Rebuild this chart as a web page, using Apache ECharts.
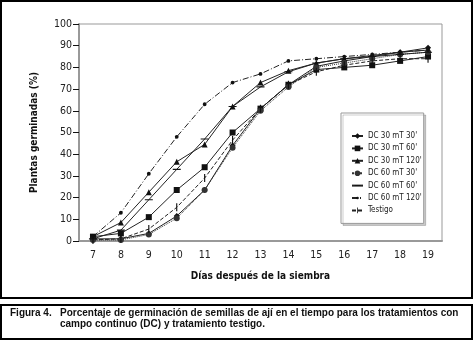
<!DOCTYPE html>
<html>
<head>
<meta charset="utf-8">
<script src="https://cdn.jsdelivr.net/npm/echarts@6/dist/echarts.min.js"></script>
<style>
  html, body { margin: 0; padding: 0; background: #fff; }
  #main { width: 475px; height: 342px; }
</style>
</head>
<body>
<div id="main"></div>
<script>
// días después de la siembra
var dias = ['7', '8', '9', '10', '11', '12', '13', '14', '15', '16', '17', '18', '19']
var yTicks = [0, 10, 20, 30, 40, 50, 60, 70, 80, 90, 100]

// porcentaje de plantas germinadas
var dc30_30 = [1, 1, 3.5, 11.5, 23.5, 44, 61, 72, 80.5, 83, 85, 87, 89]
var dc30_60 = [2, 3.5, 11, 23.5, 34, 50, 61, 72, 79, 80, 81, 83, 85]
var dc30_120 = [2, 8.5, 22.5, 36.5, 44.5, 62, 73, 78.5, 82, 84, 85.5, 87, 88]
var dc60_30 = [0.5, 0.5, 3, 10.5, 23.5, 43, 60, 71, 80, 82, 84, 86, 87]
var dc60_60 = [1, 5, 19, 33, 47, 62, 71, 78, 82, 84, 85, 86, 87]
var dc60_120 = [2, 13, 31, 48, 63, 73, 77, 83, 84, 85, 86, 87, 88]
var testigo = [0.5, 1, 5.5, 15.5, 29, 46.5, 61, 72, 78, 81, 83, 84, 84]

var font = "'DejaVu Sans Condensed', 'Liberation Sans', Arial, sans-serif"
var capFont = "'Liberation Sans', Arial, sans-serif"

// marcadores con caja cuadrada para que la leyenda no los deforme
var barraH = 'path://M0,0L0.01,0M9.99,10L10,10M0,4.3H10V5.7H0Z'
var barraV = 'path://M0,0L0,0.01M10,9.99L10,10M4.3,0H5.7V10H4.3Z'
var punto = 'path://M0,0L0.01,0M9.99,10L10,10M5,2.6A2.4,2.4,0,1,1,4.99,2.6Z'

function serie(name, data, symbol, size, lineType, color) {
  return {
    name: name,
    type: 'line',
    data: data,
    symbol: symbol,
    symbolSize: size,
    showAllSymbol: true,
    itemStyle: { color: color || '#111' },
    lineStyle: { color: color || '#222', width: 1, type: lineType },
    emphasis: { disabled: true },
    z: 3
  }
}

var myChart = echarts.init(document.getElementById('main'))
var option = {
  animation: false,
  textStyle: { fontFamily: font },
  graphic: [
    { type: 'rect', shape: { x: 1, y: 1, width: 471, height: 297 }, style: { fill: 'none', stroke: '#000', lineWidth: 2 }, z: -1 },
    { type: 'rect', shape: { x: 1, y: 305, width: 471, height: 34 }, style: { fill: 'none', stroke: '#000', lineWidth: 2 }, z: -1 },
    { type: 'text', left: 10, top: 308, style: { text: 'Figura 4.', font: 'bold 10px ' + capFont, fill: '#111' } },
    { type: 'text', left: 60, top: 308, style: { text: 'Porcentaje de germinación de semillas de ají en el tiempo para los tratamientos con\ncampo continuo (DC) y tratamiento testigo.', font: 'bold 10px ' + capFont, fill: '#111', lineHeight: 11 } }
  ],
  grid: {
    left: 79, right: 33, top: 24, bottom: 101,
    show: true, borderColor: '#999', borderWidth: 1
  },
  legend: {
    orient: 'vertical',
    left: 341, top: 113,
    padding: [19, 2, 9, 10],
    itemGap: 4.4,
    itemWidth: 11, itemHeight: 7,
    borderColor: '#999', borderWidth: 1,
    backgroundColor: '#fff',
    shadowColor: 'rgba(0,0,0,0.2)', shadowOffsetX: 2, shadowOffsetY: 2, shadowBlur: 0,
    textStyle: { fontSize: 8, color: '#222', fontFamily: font },
    data: ["DC 30 mT 30'", "DC 30 mT 60'", "DC 30 mT 120'", "DC 60 mT 30'", "DC 60 mT 60'", "DC 60 mT 120'", 'Testigo']
  },
  xAxis: {
    type: 'category',
    data: dias,
    boundaryGap: true,
    name: 'Días después de la siembra',
    nameLocation: 'middle',
    nameGap: 30,
    nameTextStyle: { fontWeight: 'bold', fontSize: 10, color: '#111', fontFamily: font },
    axisLine: { lineStyle: { color: '#999', width: 2 } },
    axisTick: { length: 7, lineStyle: { color: '#111' } },
    axisLabel: { fontSize: 10.5, color: '#222', margin: 9 }
  },
  yAxis: {
    type: 'value',
    min: 0, max: 100, interval: 10,
    name: 'Plantas germinadas (%)',
    nameLocation: 'middle',
    nameGap: 40,
    nameTextStyle: { fontWeight: 'bold', fontSize: 10, color: '#111', fontFamily: font },
    axisLine: { show: true, lineStyle: { color: '#999', width: 2 } },
    axisTick: { show: true, length: 6, lineStyle: { color: '#111' } },
    splitLine: { show: false },
    axisLabel: {
      fontSize: 10.5, color: '#222', margin: 7,
      formatter: function (v) { return yTicks.indexOf(v) >= 0 ? String(v) : '' }
    }
  },
  series: [
    serie("DC 30 mT 30'", dc30_30, 'diamond', 6, 'solid'),
    serie("DC 30 mT 60'", dc30_60, 'rect', 6, 'solid'),
    serie("DC 30 mT 120'", dc30_120, 'triangle', 6, 'solid'),
    serie("DC 60 mT 30'", dc60_30, 'circle', 6, 'dotted', '#333'),
    serie("DC 60 mT 60'", dc60_60, barraH, 8, 'solid'),
    serie("DC 60 mT 120'", dc60_120, punto, 8, [6, 2, 1, 2]),
    serie('Testigo', testigo, barraV, 8, [4, 2])
  ]
}
myChart.setOption(option)
</script>
</body>
</html>
